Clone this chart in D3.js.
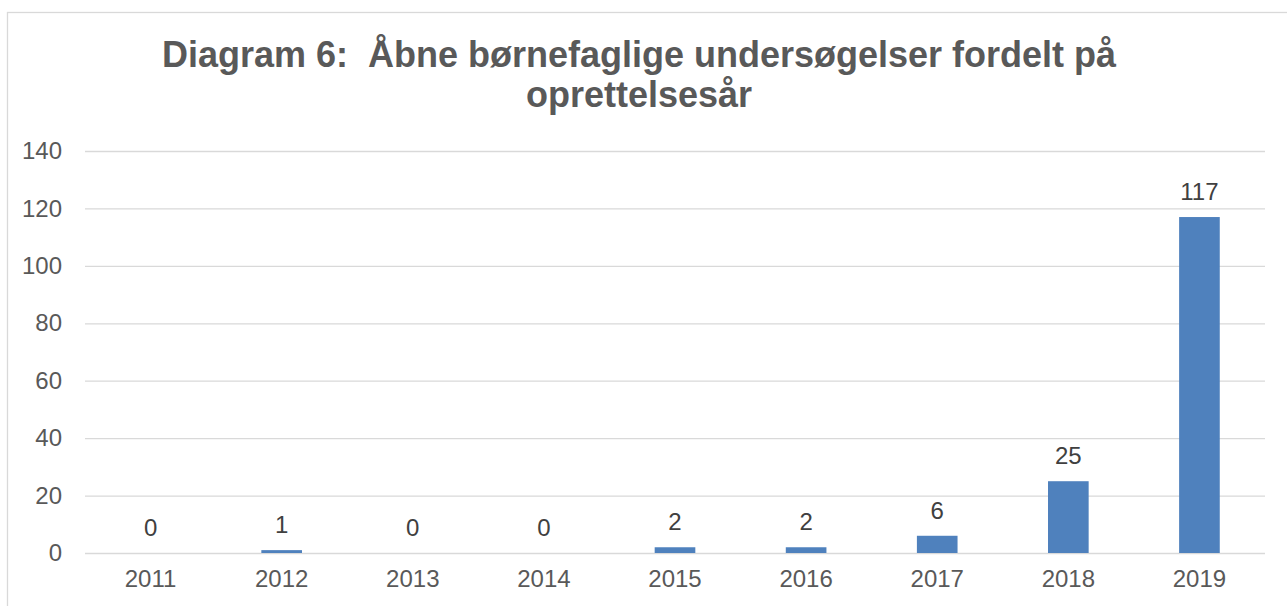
<!DOCTYPE html>
<html>
<head>
<meta charset="utf-8">
<script src="https://cdn.jsdelivr.net/npm/d3@7"></script>
<style>
  body { margin: 0; background: #fff; }
  text { font-family: "Liberation Sans", Arial, sans-serif; }
</style>
</head>
<body>
<svg id="chart" width="1287" height="606"></svg>
<script>
// data
var years = ["2011", "2012", "2013", "2014", "2015", "2016", "2017", "2018", "2019"];
var counts = [0, 1, 0, 0, 2, 2, 6, 25, 117];
var yTicks = [0, 20, 40, 60, 80, 100, 120, 140];
var titleLines = ["Diagram 6:  Åbne børnefaglige undersøgelser fordelt på", "oprettelsesår"];

var svg = d3.select('#chart');

// chart frame
svg.append('rect')
    .attr('x', 7.5)
    .attr('y', 12.5)
    .attr('width', 1300)
    .attr('height', 620)
    .attr('fill', '#fff')
    .attr('stroke', '#d9d9d9')
    .attr('stroke-width', 1.3);

var plot = {l: 85, r: 1265, t: 151, b: 553};

var xScale = d3.scaleBand()
    .domain(years)
    .range([plot.l, plot.r])
    .paddingInner(0.69)
    .paddingOuter(0.345);

var yScale = d3.scaleLinear()
    .domain([0, 140])
    .range([plot.b, plot.t]);

// title (keep the double space after the colon)
svg.append('text')
    .attr('x', 639)
    .attr('y', 67)
    .attr('text-anchor', 'middle')
    .style('font-size', '36px')
    .style('font-weight', 'bold')
    .style('fill', '#595959')
    .style('white-space', 'pre')
    .selectAll('tspan')
    .data(titleLines)
    .enter()
    .append('tspan')
    .attr('x', 639)
    .attr('dy', function(d, i) { return i == 0 ? 0 : 40; })
    .text(function(d) { return d; });

// gridlines + y labels
var yAxis = d3.axisLeft(yScale)
    .tickValues(yTicks)
    .tickSize(-(plot.r - plot.l))
    .tickPadding(23);

var yG = svg.append('g')
    .attr('transform', 'translate(' + plot.l + ',0)')
    .call(yAxis);
yG.select('.domain').remove();
yG.selectAll('.tick line')
    .attr('stroke', '#d9d9d9')
    .attr('stroke-width', 1.3);
yG.selectAll('.tick text')
    .style('font-size', '24px')
    .style('fill', '#595959')
    .style('font-family', '"Liberation Sans", Arial, sans-serif');

// x labels
var xAxis = d3.axisBottom(xScale)
    .tickSize(0)
    .tickPadding(17);
var xG = svg.append('g')
    .attr('transform', 'translate(0,' + plot.b + ')')
    .call(xAxis);
xG.select('.domain').remove();
xG.selectAll('.tick text')
    .style('font-size', '24px')
    .style('fill', '#595959')
    .style('font-family', '"Liberation Sans", Arial, sans-serif');

// bars
var data = years.map(function(y, i) { return {year: y, value: counts[i]}; });

svg.selectAll('.bar')
    .data(data)
    .enter()
    .append('rect')
    .attr('class', 'bar')
    .attr('x', function(d) { return xScale(d.year); })
    .attr('y', function(d) { return yScale(d.value); })
    .attr('width', xScale.bandwidth())
    .attr('height', function(d) { return yScale(0) - yScale(d.value); })
    .attr('fill', '#4f81bd');

// value labels
svg.selectAll('.value')
    .data(data)
    .enter()
    .append('text')
    .attr('class', 'value')
    .attr('x', function(d) { return xScale(d.year) + xScale.bandwidth() / 2; })
    .attr('y', function(d) { return yScale(d.value) - 17; })
    .attr('text-anchor', 'middle')
    .style('font-size', '24px')
    .style('fill', '#404040')
    .text(function(d) { return d.value; });
</script>
</body>
</html>
